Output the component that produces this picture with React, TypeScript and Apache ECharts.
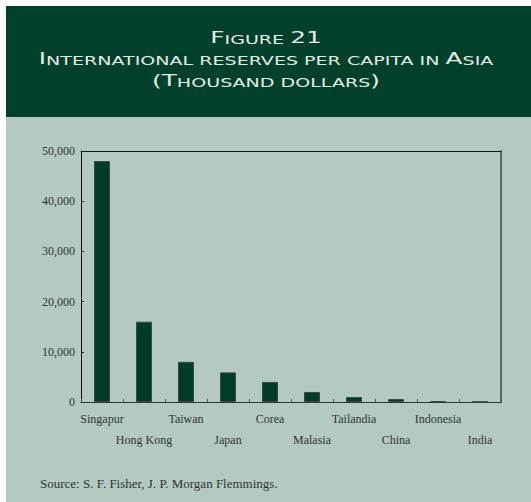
import React, { useEffect, useRef } from "react";
import * as echarts from "echarts";

const categories = ["Singapur", "Hong Kong", "Taiwan", "Japan", "Corea", "Malasia", "Tailandia", "China", "Indonesia", "India"];
const reserves = [48000, 16000, 8000, 5900, 4000, 2000, 1000, 600, 150, 80];
const yMin = 0;
const yMax = 50000;
const yInterval = 10000;

const titleLines = ["Figure 21", "International reserves per capita in Asia", "(Thousand dollars)"];
const sourceText = "Source: S. F. Fisher, J. P. Morgan Flemmings.";

function smallCaps(s: string): string {
  let out = "";
  let cur = "";
  let type: string | null = null;
  const flush = () => {
    if (cur) out += `{${type}|${cur}}`;
    cur = "";
  };
  for (const ch of s) {
    let t: string;
    if (ch === " ") t = type || "s";
    else t = /[A-Z0-9()]/.test(ch) ? "b" : "s";
    if (t !== type) {
      flush();
      type = t;
    }
    cur += t === "s" ? ch.toUpperCase() : ch;
  }
  flush();
  return out;
}

export default function App() {
  const ref = useRef<HTMLDivElement>(null);
  useEffect(() => {
    if (!ref.current) return;
    const chart = echarts.init(ref.current, null, { renderer: "svg" });
    const headerColor = "#01402a";
    const panelColor = "#b4cac0";
    const titleY = [38, 59, 81];
    const rich = {
      b: { fontFamily: "DejaVu Sans", fontSize: 16, color: "#e4ece6", verticalAlign: "bottom" },
      s: { fontFamily: "DejaVu Sans", fontSize: 12.3, color: "#e4ece6", verticalAlign: "bottom" },
    };
    chart.setOption({
      animation: false,
      backgroundColor: "#ffffff",
      graphic: [
        { type: "rect", z: -10, shape: { x: 6, y: 6, width: 525, height: 111 }, style: { fill: headerColor } },
        { type: "rect", z: -10, shape: { x: 6, y: 117, width: 525, height: 385 }, style: { fill: panelColor } },
        ...titleLines.map((t, i) => ({
          type: "text",
          x: 266,
          y: titleY[i],
          scaleX: 1.55,
          z: 10,
          style: {
            text: smallCaps(t),
            rich,
            align: "center",
            verticalAlign: "middle",
            fill: "#e4ece6",
          },
        })),
        {
          type: "text",
          x: 40,
          y: 483,
          z: 10,
          style: {
            text: sourceText,
            font: "13px 'Liberation Serif'",
            fill: "#333333",
            align: "left",
            verticalAlign: "middle",
          },
        },
      ],
      grid: { left: 81, right: 30, top: 151, bottom: 100, containLabel: false },
      xAxis: [
        {
          type: "category",
          data: categories,
          position: "bottom",
          boundaryGap: true,
          axisLine: { show: true, onZero: false, lineStyle: { color: "#333", width: 1 } },
          axisTick: { show: true, inside: true, length: 3, lineStyle: { color: "#555" } },
          axisLabel: {
            interval: 0,
            margin: 6,
            fontFamily: "Liberation Serif",
            fontSize: 12,
            color: "#333",
            lineHeight: 21,
            formatter: (v: string, i: number) => (i % 2 === 1 ? "\n" + v : v),
          },
          splitLine: { show: false },
        },
        {
          type: "category",
          data: categories,
          position: "top",
          axisLine: { show: true, onZero: false, lineStyle: { color: "#111", width: 1 } },
          axisTick: { show: false },
          axisLabel: { show: false },
          splitLine: { show: false },
        },
      ],
      yAxis: [
        {
          type: "value",
          min: yMin,
          max: yMax,
          interval: yInterval,
          position: "left",
          axisLine: { show: true, onZero: false, lineStyle: { color: "#111", width: 1 } },
          axisTick: { show: true, inside: true, length: 3, lineStyle: { color: "#222" } },
          axisLabel: {
            margin: 6,
            fontFamily: "Liberation Serif",
            fontSize: 12,
            color: "#333",
            formatter: (v: number) => v.toLocaleString("en-US"),
          },
          splitLine: { show: false },
        },
        {
          type: "value",
          min: yMin,
          max: yMax,
          interval: yInterval,
          position: "right",
          axisLine: { show: true, onZero: false, lineStyle: { color: "#5e6660", width: 2 } },
          axisTick: { show: false },
          axisLabel: { show: false },
          splitLine: { show: false },
        },
      ],
      series: [
        {
          type: "bar",
          data: reserves,
          xAxisIndex: 0,
          yAxisIndex: 0,
          barWidth: 16,
          itemStyle: { color: "#003d27", borderColor: "#3d4a43", borderWidth: 1 },
        },
      ],
    });
    return () => chart.dispose();
  }, []);
  return <div ref={ref} style={{ position: "absolute", left: 0, top: 0, width: 531, height: 502 }} />;
}
